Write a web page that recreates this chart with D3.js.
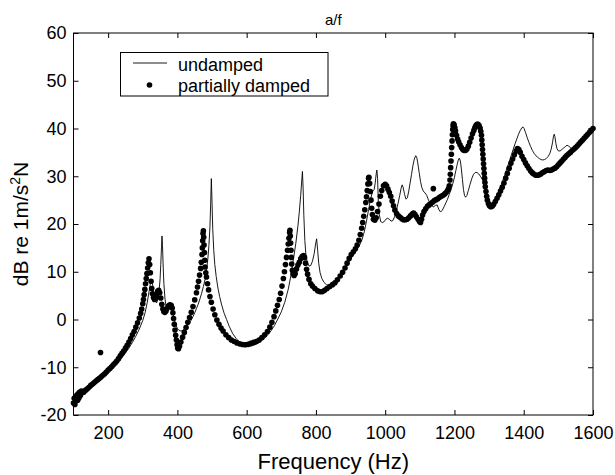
<!DOCTYPE html>
<html><head><meta charset="utf-8">
<script src="https://cdn.jsdelivr.net/npm/d3@7"></script>
<style>
html,body{margin:0;padding:0;background:#fff;}
text{font-family:Arial,"Liberation Sans",Helvetica,sans-serif;fill:#000;}
</style></head>
<body>
<svg id="chart" width="615" height="475"></svg>
<script>
const chartTitle = "a/f";
const xLabel = "Frequency (Hz)";
const seriesNames = ["undamped", "partially damped"];
const xTicks = [200, 400, 600, 800, 1000, 1200, 1400, 1600];
const yTicks = [-20, -10, 0, 10, 20, 30, 40, 50, 60];

const undampedHz = [100,110,120,130,140,150,160,170,180,190,200,210,220,230,240,250,260,270,280,290,300,307,313,318,322,325,328,332,336,340,344,347,350,352,354,355.5,357,359,361,364,367,370,374,378,382,386,390,395,400,405,410,415,420,425,430,435,440,445,450,455,460,465,470,475,480,484,488,491,494,496,498,500,502,505,508,512,517,522,528,535,542,550,560,570,580,590,600,610,620,630,640,650,660,670,680,690,700,710,720,728,735,742,748,752,756,759,761,763,765,768,771,775,780,785,790,795,799,802,805,808,812,817,823,830,838,846,855,865,875,885,895,905,915,925,933,940,946,952,958,964,968,971,974,976,978,980,983,987,992,997,1002,1007,1012,1017,1022,1027,1032,1037,1042,1046,1049,1052,1056,1060,1064,1068,1072,1076,1080,1084,1088,1091,1094,1098,1102,1106,1110,1115,1120,1125,1130,1135,1140,1145,1150,1155,1160,1165,1170,1175,1180,1185,1190,1195,1200,1204,1208,1211,1214,1217,1220,1223,1226,1229,1232,1236,1240,1245,1250,1255,1260,1265,1270,1275,1280,1285,1290,1295,1300,1305,1310,1315,1320,1325,1330,1335,1340,1345,1350,1355,1360,1365,1370,1375,1380,1385,1390,1395,1398,1401,1405,1410,1415,1420,1425,1430,1435,1440,1445,1450,1455,1460,1465,1470,1475,1479,1483,1486,1488,1490,1493,1496,1500,1505,1510,1515,1520,1525,1530,1535,1540,1545,1550,1555,1560,1565,1570,1575,1580,1585,1590,1595,1600];
const undampedDb = [-17.5,-16.6,-15.9,-15.3,-14.6,-14.0,-13.3,-12.7,-12.1,-11.5,-10.9,-10.3,-9.6,-8.8,-8.0,-7.0,-6.0,-4.8,-3.5,-2.0,-0.2,1.5,3.6,5.8,7.5,8.2,7.5,5.5,4.0,3.5,4.2,5.8,8.5,11.5,15.0,17.5,15.5,11.0,7.5,4.5,2.8,2.2,2.6,3.3,2.8,1.5,0.2,-1.0,-1.9,-2.3,-2.4,-2.3,-2.0,-1.6,-1.2,-0.7,-0.1,0.6,1.4,2.3,3.2,4.3,5.5,6.9,8.4,10.2,12.8,15.5,19.5,24.0,29.5,24.5,19.0,14.5,11.5,9.0,6.6,4.8,3.0,1.3,0.0,-1.5,-3.0,-4.0,-4.8,-5.3,-5.6,-5.6,-5.4,-5.1,-4.6,-4.0,-3.3,-2.4,-1.3,0.1,1.6,3.6,6.3,9.3,12.6,16.0,19.6,22.5,26.0,29.0,31.0,27.5,22.0,16.5,13.6,12.0,11.2,11.3,12.2,13.8,15.8,16.9,14.5,11.8,9.8,8.6,7.8,7.3,7.1,7.4,7.9,8.8,9.8,10.9,12.1,13.3,14.3,15.4,16.7,18.5,20.6,23.0,25.3,26.9,27.2,28.5,30.5,31.3,29.5,25.0,22.0,20.5,20.3,20.5,21.0,21.2,21.0,20.6,20.7,21.5,22.8,24.3,26.0,27.5,28.2,27.6,26.2,25.2,25.5,26.9,28.6,30.4,32.2,33.6,34.3,34.0,32.8,30.8,28.9,27.6,26.9,26.5,26.0,25.0,24.3,23.8,23.6,23.9,24.0,23.0,22.5,22.9,23.6,24.4,25.2,26.2,27.2,28.4,29.8,31.2,32.5,33.4,33.8,33.2,31.5,29.3,27.2,26.0,25.6,26.0,27.0,28.3,29.5,30.4,30.8,30.8,30.5,30.0,29.4,28.6,27.5,26.2,24.9,24.2,24.1,24.6,25.4,26.3,27.3,28.2,29.2,30.2,31.3,32.4,33.5,34.6,35.7,36.8,37.8,38.8,39.6,40.2,40.3,40.0,39.2,38.1,37.1,36.2,35.4,34.8,34.3,34.0,33.7,33.5,33.4,33.5,33.7,34.1,34.7,35.6,37.0,38.4,38.8,38.3,36.8,35.8,35.3,35.3,35.6,35.9,36.2,36.5,36.3,36.0,35.7,35.8,36.2,36.6,37.1,37.5,37.9,38.3,38.7,39.1,39.4,39.7,40.0];

const dampedHz = [100,102,104,106,108,110,112,114,116,118,120,123,126,130,135,140,145,150,155,160,165,170,175,178,180,185,190,195,200,205,210,215,220,225,230,235,240,245,250,255,260,265,270,275,280,285,290,294,297,300,302,304,306,308,310,312,314,316,318,320,322,324,326,328,331,334,337,340,343,346,349,352,355,358,361,364,367,370,374,378,382,385,387,389,391,393,395,397,399,401,403,406,410,415,420,425,430,435,440,445,450,455,458,461,464,467,469,471,472,473,474,475,476,477,478,479,480,482,484,487,490,494,498,503,508,514,520,526,532,540,548,556,564,572,580,588,596,604,612,620,628,636,644,652,660,667,673,679,684,689,694,698,702,706,709,712,715,718,720,722,724,725,726,727,728,729,730,732,734,737,740,744,748,752,756,760,764,767,770,773,776,780,785,790,797,805,812,818,825,832,840,848,855,862,870,877,884,890,896,902,908,914,919,924,928,932,935,938,941,944,946,948,950,952,953,955,957,959,961,963,966,970,974,978,982,986,990,995,1000,1004,1008,1012,1016,1020,1024,1028,1033,1038,1043,1048,1053,1058,1063,1068,1073,1078,1082,1086,1090,1095,1099,1102,1105,1108,1112,1117,1122,1127,1132,1137,1139,1142,1147,1152,1157,1162,1167,1172,1176,1180,1183,1185,1187,1188,1189,1190,1191,1192,1193,1194,1195,1196,1197,1199,1201,1203,1206,1209,1212,1216,1220,1224,1228,1232,1236,1240,1244,1248,1252,1256,1259,1262,1265,1268,1271,1274,1276,1278,1279,1280,1281,1282,1283,1284,1285,1286,1287,1288,1289,1291,1293,1295,1298,1301,1305,1309,1313,1318,1323,1328,1333,1338,1343,1348,1353,1358,1363,1368,1373,1378,1382,1386,1390,1395,1400,1405,1410,1415,1420,1425,1430,1435,1440,1445,1450,1455,1460,1465,1470,1475,1480,1485,1490,1495,1500,1505,1510,1515,1520,1525,1530,1535,1540,1545,1550,1555,1560,1565,1570,1575,1580,1585,1590,1595,1600];
const dampedDb = [-17.5,-16.5,-17.8,-16.2,-17.0,-15.8,-16.9,-15.5,-16.4,-15.2,-15.9,-15.0,-15.3,-15.2,-14.8,-14.5,-14.2,-13.8,-13.5,-13.2,-12.9,-12.6,-12.3,-6.9,-12.0,-11.7,-11.35,-11.0,-10.6,-10.25,-9.9,-9.5,-9.1,-8.7,-8.2,-7.6,-7.1,-6.6,-6.0,-5.4,-4.7,-4.0,-3.2,-2.5,-1.6,-0.7,0.3,1.3,2.2,3.3,4.2,5.2,6.3,7.5,8.6,9.6,10.8,11.9,12.7,11.5,9.8,8.0,6.5,5.4,4.6,4.2,4.5,5.2,5.9,6.1,5.6,4.5,3.2,2.2,1.6,1.5,1.8,2.3,2.8,3.1,3.0,2.4,1.4,0.2,-1.0,-2.2,-3.3,-4.3,-5.3,-6.0,-6.1,-5.6,-4.7,-3.7,-2.7,-1.7,-0.6,0.4,1.5,2.7,4.1,5.6,6.8,8.0,9.3,10.7,12.0,13.6,15.0,16.5,18.0,18.6,17.2,15.6,14.0,12.4,11.0,9.8,8.9,7.5,6.2,4.8,3.6,2.2,1.0,-0.1,-1.0,-1.8,-2.4,-3.2,-3.8,-4.3,-4.6,-4.9,-5.1,-5.25,-5.3,-5.2,-5.0,-4.8,-4.6,-4.3,-3.8,-3.2,-2.5,-1.6,-0.6,0.6,1.8,3.0,4.2,5.5,7.0,8.6,10.0,11.5,13.0,14.5,15.8,17.0,18.2,18.7,17.5,16.0,14.5,13.0,11.6,10.3,9.6,9.2,9.6,10.6,11.4,12.0,12.7,13.2,13.4,13.0,11.8,10.5,9.5,8.4,7.5,7.0,6.5,6.0,5.8,5.8,6.1,6.5,6.9,7.3,7.7,8.3,9.1,9.9,10.8,11.8,12.8,13.6,14.2,14.8,15.6,16.6,17.8,19.1,20.3,21.6,23.0,24.5,25.7,27.0,28.4,29.6,29.8,28.5,26.8,25.0,23.3,22.0,21.0,20.8,21.3,22.6,24.2,25.8,27.0,28.0,28.3,28.0,27.3,26.6,25.8,24.8,23.8,22.9,22.2,21.7,21.4,21.1,20.9,20.9,21.0,21.3,21.7,22.1,22.3,22.0,21.5,21.0,20.5,20.3,21.0,21.9,22.6,23.2,23.7,24.0,24.3,24.6,27.4,24.9,25.1,25.3,25.6,25.8,26.0,26.3,26.6,27.0,27.4,28.0,29.2,30.4,31.8,33.2,34.6,36.0,37.4,38.7,39.8,40.6,41.0,40.8,40.2,39.5,38.6,37.8,37.2,36.6,36.0,35.6,35.4,35.4,35.7,36.3,37.1,38.0,38.9,39.6,40.2,40.6,40.9,40.9,40.6,40.1,39.4,38.6,37.6,36.6,35.6,34.6,33.6,32.6,31.6,30.6,29.6,28.7,27.8,26.8,25.8,25.0,24.3,23.8,23.6,23.7,24.1,24.7,25.4,26.1,26.9,27.7,28.6,29.6,30.6,31.7,32.7,33.6,34.5,35.3,35.8,35.6,35.0,34.2,33.5,32.8,32.2,31.6,31.1,30.7,30.4,30.2,30.2,30.3,30.5,30.8,31.0,31.2,31.3,31.2,31.3,31.5,31.7,32.0,32.4,32.8,33.2,33.6,34.0,34.4,34.7,35.0,35.4,35.7,36.0,36.4,36.8,37.2,37.6,38.0,38.4,38.8,39.2,39.6,40.0];

const svg = d3.select("#chart");
const mLeft = 73.5, mRight = 593, mTop = 33, mBottom = 415;
const x = d3.scaleLinear().domain([100, 1600]).range([mLeft, mRight]);
const y = d3.scaleLinear().domain([-20, 60]).range([mBottom, mTop]);

svg.append("rect").attr("x", mLeft).attr("y", mTop).attr("width", mRight-mLeft).attr("height", mBottom-mTop)
  .attr("fill", "none").attr("stroke", "#000").attr("stroke-width", 1);

const tl = 5;
const fmt = d => String(d);
const axB = svg.append("g").attr("transform", `translate(0,${mBottom})`)
  .call(d3.axisBottom(x).tickValues(xTicks).tickSizeInner(-tl).tickSizeOuter(0).tickPadding(11).tickFormat(fmt));
const axT = svg.append("g").attr("transform", `translate(0,${mTop})`)
  .call(d3.axisTop(x).tickValues(xTicks).tickSizeInner(-tl).tickSizeOuter(0).tickFormat(""));
const axL = svg.append("g").attr("transform", `translate(${mLeft},0)`)
  .call(d3.axisLeft(y).tickValues(yTicks).tickSizeInner(-tl).tickSizeOuter(0).tickPadding(7).tickFormat(fmt));
const axR = svg.append("g").attr("transform", `translate(${mRight},0)`)
  .call(d3.axisRight(y).tickValues(yTicks).tickSizeInner(-tl).tickSizeOuter(0).tickFormat(""));
[axB, axT, axL, axR].forEach(g => {
  g.select(".domain").remove();
  g.selectAll("line").attr("stroke", "#000");
  g.selectAll("text").attr("font-size", 18).attr("font-family", "Arial, 'Liberation Sans', sans-serif").attr("fill", "#000");
});

const nU = Math.min(undampedHz.length, undampedDb.length);
const nD = Math.min(dampedHz.length, dampedDb.length);
const line = d3.line().x(d => x(d[0])).y(d => y(d[1]));
svg.append("path").datum(d3.range(nU).map(i => [undampedHz[i], undampedDb[i]]))
  .attr("d", line).attr("fill", "none").attr("stroke", "#000").attr("stroke-width", 0.9);

svg.append("g").selectAll("circle").data(d3.range(nD).map(i => [dampedHz[i], dampedDb[i]])).join("circle")
  .attr("cx", d => x(d[0])).attr("cy", d => y(d[1])).attr("r", 2.8).attr("fill", "#000");

svg.append("text").attr("x", (mLeft+mRight)/2).attr("y", 25).attr("text-anchor", "middle").attr("font-size", 15).text(chartTitle);
svg.append("text").attr("x", (mLeft+mRight)/2).attr("y", 469).attr("text-anchor", "middle").attr("font-size", 22).text(xLabel);
const yl = svg.append("text").attr("transform", `translate(28,${(mTop+mBottom)/2}) rotate(-90)`)
  .attr("text-anchor", "middle").attr("font-size", 21);
yl.append("tspan").text("dB re 1m/s");
yl.append("tspan").attr("font-size", 14).attr("dy", -8).text("2");
yl.append("tspan").attr("dy", 8).text("N");

const lg = svg.append("g");
lg.append("rect").attr("x", 120.5).attr("y", 52.5).attr("width", 207.5).attr("height", 43.5)
  .attr("fill", "#fff").attr("stroke", "#000").attr("stroke-width", 1);
lg.append("line").attr("x1", 133).attr("x2", 167).attr("y1", 63).attr("y2", 63).attr("stroke", "#000").attr("stroke-width", 0.9);
lg.append("circle").attr("cx", 149.5).attr("cy", 85).attr("r", 2.8).attr("fill", "#000");
lg.append("text").attr("x", 178).attr("y", 70.5).attr("font-size", 18).text(seriesNames[0]);
lg.append("text").attr("x", 178).attr("y", 91.5).attr("font-size", 18).text(seriesNames[1]);
</script>
</body></html>
